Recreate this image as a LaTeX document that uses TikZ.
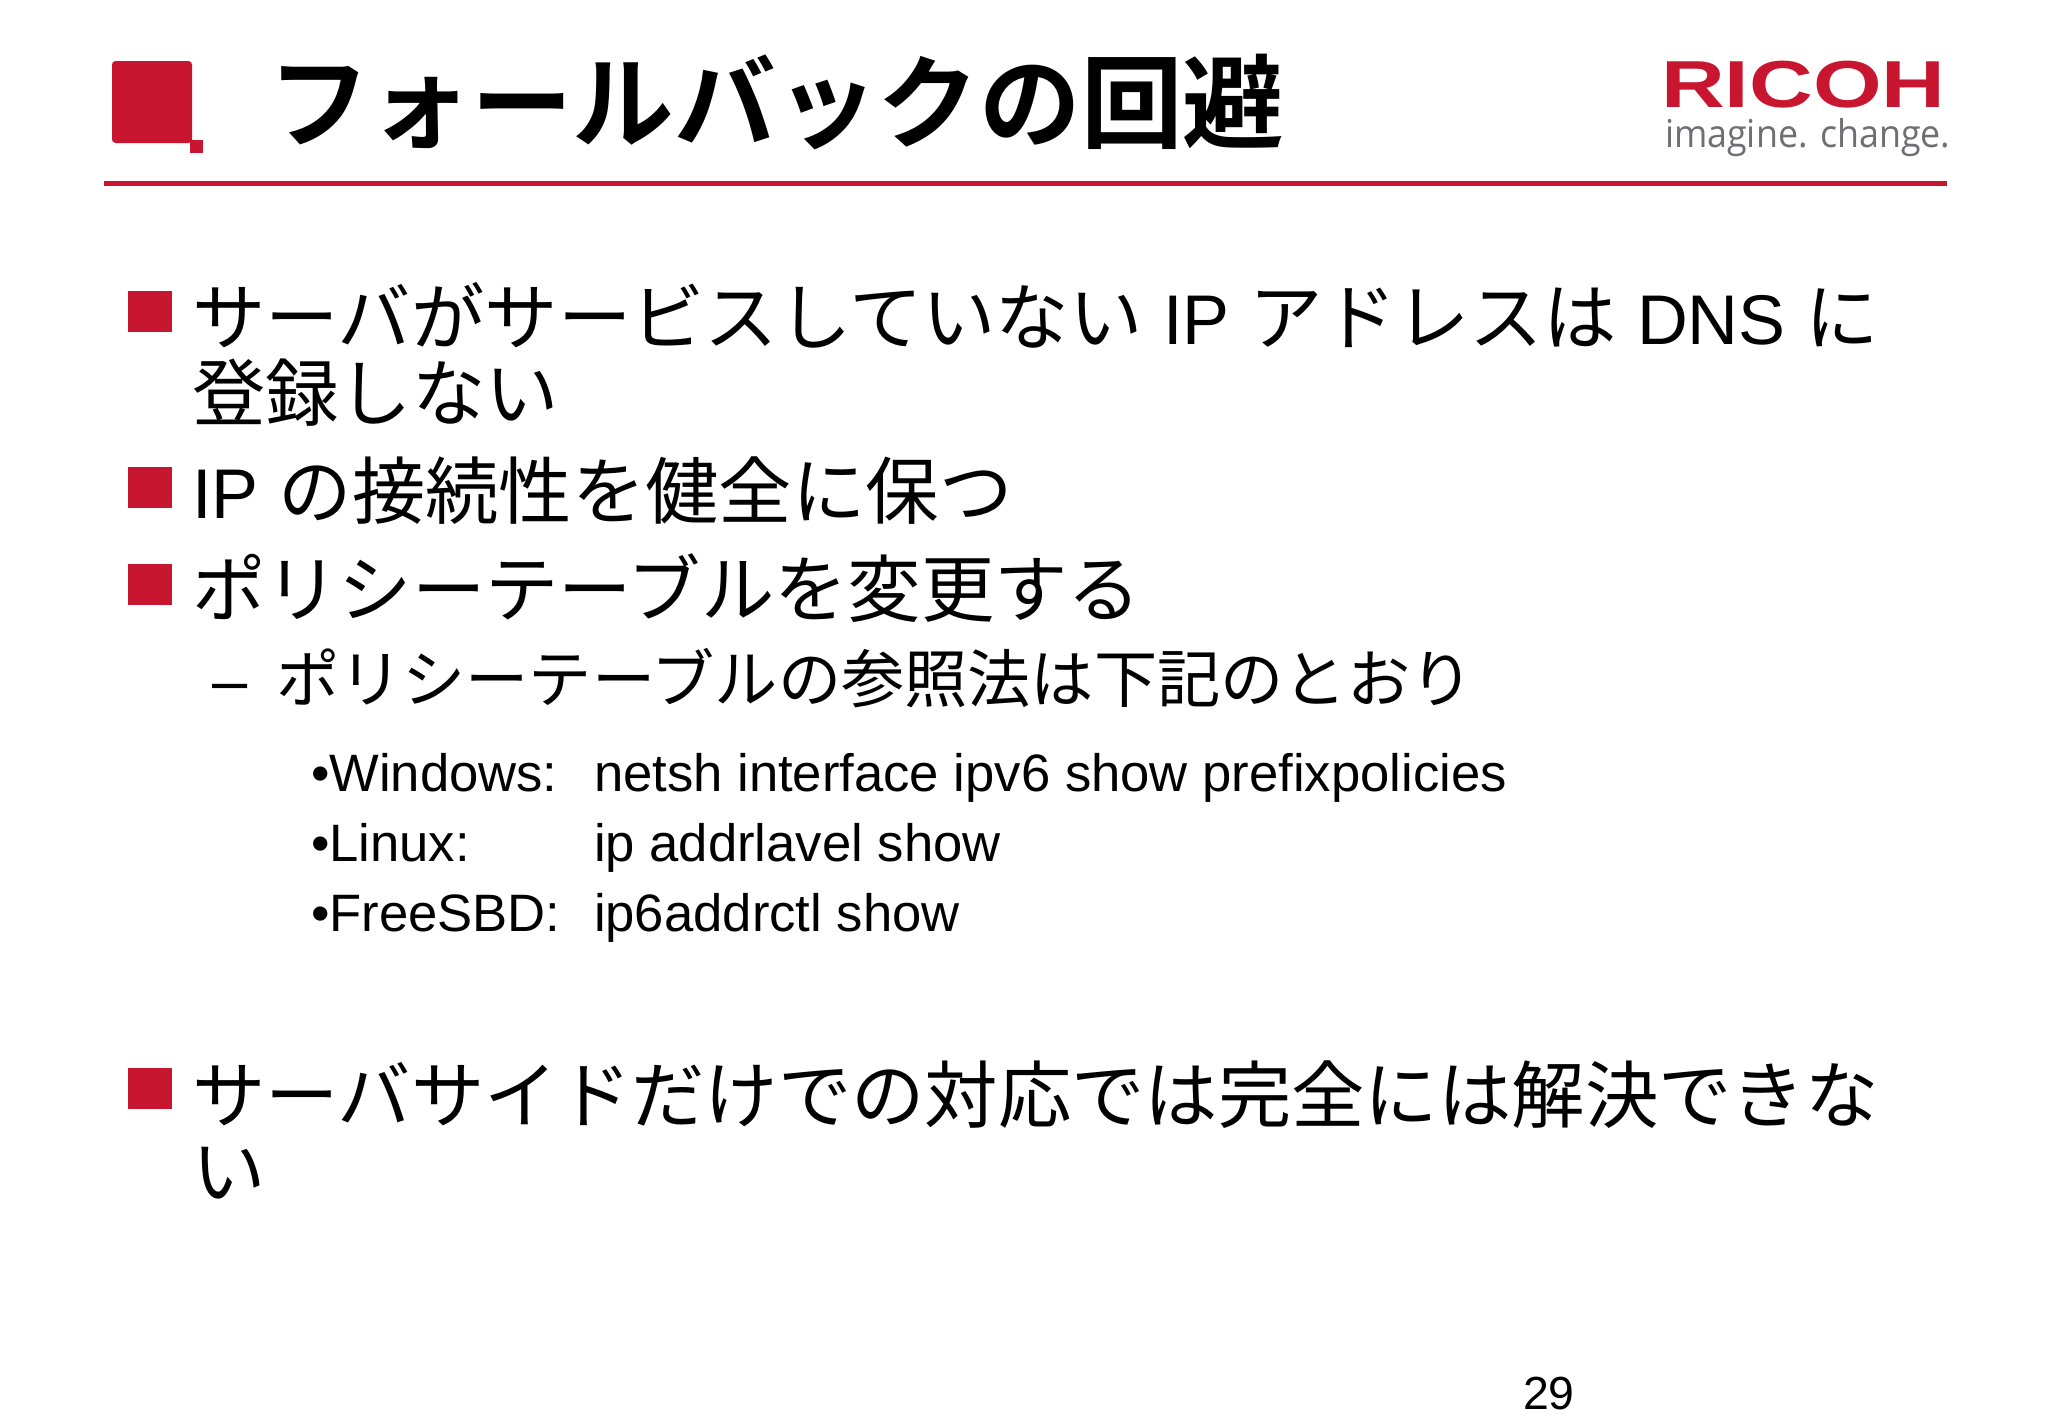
\documentclass[tikz,border=0pt]{standalone}
\usepackage{fontspec}
\usepackage{tikz}
\setmainfont{Liberation Sans}
\newfontfamily\jp{Noto Sans CJK JP}
\newfontfamily\jpbold{Noto Sans CJK JP Bold}
\newfontfamily\logofont{Open Sans}
\newcommand{\lat}[1]{{\fontsize{20}{24}\selectfont #1}}
\definecolor{ricohred}{RGB}{200,22,48}
\definecolor{ricohgrey}{RGB}{110,110,115}
\tikzstyle{txt}=[anchor=base west, inner sep=0pt, outer sep=0pt]
\tikzstyle{title_txt}=[txt, font=\fontsize{28.9}{30}\jpbold]
\tikzstyle{body_txt}=[txt, font=\fontsize{20.86}{24}\selectfont]
\tikzstyle{sub_txt}=[txt, font=\fontsize{17.98}{20}\selectfont]
\tikzstyle{cmd_txt}=[txt, font=\fontsize{14.97}{18}\selectfont]
\tikzstyle{red_bullet}=[anchor=north west, fill=ricohred, inner sep=0pt, minimum width=12.5pt, minimum height=11.7pt]

\begin{document}
\begin{tikzpicture}[x=.01cm, y=-.01cm]
          \useasboundingbox (0,0) rectangle (2048,1418);
          % heading
          \fill[ricohred, rounded corners=1pt] (112,61) rectangle (192,143);
          \fill[ricohred] (190,140) rectangle (203,153);
          \node[title_txt] (title) at (268,140){フォールバックの回避};
          \coordinate (rule_l) at (104,183.5);
          \coordinate (rule_r) at (1947,183.5);
          \draw[ricohred, line width=1.4pt](rule_l) -- (rule_r);
          % logo
          \node[txt, xscale=1.328, text=ricohred, font=\fontsize{18.9}{20}\bfseries] (ricoh) at (1661,107){RICOH};
          \node[txt, xscale=.935, text=ricohgrey, font=\fontsize{10.9}{12}\logofont] (imagine) at (1665,147){imagine. change.};
          % bullets
          \node[red_bullet] (bul1) at (127,290){};
          \node[red_bullet] (bul2) at (127,466){};
          \node[red_bullet] (bul3) at (127,563){};
          \node[red_bullet] (bul4) at (127,1067){};
          % body
          \node[body_txt] (line1) at (192,344){{\jp サーバがサービスしていない} \lat{IP} {\jp アドレスは} \lat{DNS} {\jp に}};
          \node[body_txt] (line1b) at (192,420){\jp 登録しない};
          \node[body_txt] (line2) at (192,518){\lat{IP} {\jp の接続性を健全に保つ}};
          \node[body_txt] (line3) at (192,616){\jp ポリシーテーブルを変更する};
          \node[sub_txt] (sub_dash) at (212,702){–};
          \node[sub_txt] (sub) at (276,702){\jp ポリシーテーブルの参照法は下記のとおり};
          \node[cmd_txt] (os1) at (311,791){•Windows:};
          \node[cmd_txt] (cmd1) at (594,791){netsh interface ipv6 show prefixpolicies};
          \node[cmd_txt] (os2) at (311,861){•Linux:};
          \node[cmd_txt] (cmd2) at (594,861){ip addrlavel show};
          \node[cmd_txt] (os3) at (311,931){•FreeSBD:};
          \node[cmd_txt] (cmd3) at (594,931){ip6addrctl show};
          \node[body_txt] (line4) at (192,1122){\jp サーバサイドだけでの対応では完全には解決できな};
          \node[body_txt] (line4b) at (192,1198){\jp い};
          \node[txt, font=\fontsize{13.2}{14}\selectfont] (page) at (1523,1409){29};
        \end{tikzpicture}
\end{document}
